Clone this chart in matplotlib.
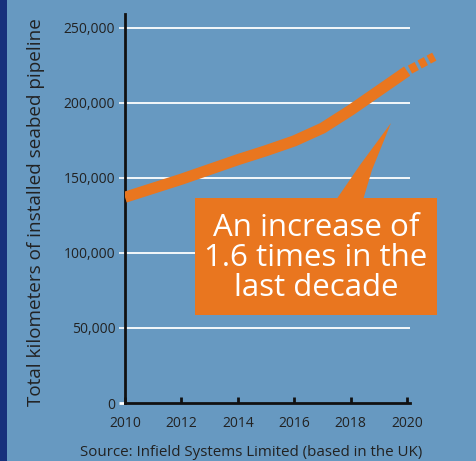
import matplotlib
matplotlib.use("Agg")
import matplotlib.pyplot as plt
from matplotlib.patches import Rectangle, Polygon

# ---- data ----
years = [2010, 2011, 2012, 2013, 2014, 2015, 2016, 2017, 2018, 2019, 2020]
pipeline_km = [137000, 143000, 149000, 155500, 162000, 168000, 174500, 183000, 195000, 208000, 221000]
proj_years = [2020, 2021]
proj_km = [221000, 231000]
xticks = [2010, 2012, 2014, 2016, 2018, 2020]
yticks = [0, 50000, 100000, 150000, 200000, 250000]
ytick_labels = ["0", "50,000", "100,000", "150,000", "200,000", "250,000"]
ylabel = "Total kilometers of installed seabed pipeline"
source = "Source: Infield Systems Limited (based in the UK)"
callout = "An increase of\n1.6 times in the\nlast decade"

# ---- style ----
W, H = 477, 461
BG = "#6799c1"
ORANGE = "#e9761f"
NAVY = "#17307c"
TXT = "#222222"
FONT = ["Open Sans", "DejaVu Sans"]
plt.rcParams["font.family"] = FONT

fig = plt.figure(figsize=(W / 100, H / 100), dpi=100, facecolor=BG)

def fx(x):
    return x / W

def fy(y):
    return 1 - y / H

ax = fig.add_axes([fx(125), fy(403), fx(410) - fx(125), fy(14) - fy(403)])
ax.set_facecolor("none")
ax.set_xlim(2010, 2020.1)
ax.set_ylim(0, 259000)

for s in ["top", "right"]:
    ax.spines[s].set_visible(False)
for s in ["left", "bottom"]:
    ax.spines[s].set_linewidth(2.0)
    ax.spines[s].set_color("#111111")

ax.set_yticks(yticks)
ax.set_yticklabels(ytick_labels)
ax.set_xticks(xticks)
ax.tick_params(axis="y", colors="white", labelcolor=TXT, length=4, width=1.2,
               labelsize=10, pad=3)
ax.tick_params(axis="x", colors="#111111", labelcolor=TXT, length=4, width=2,
               direction="in", labelsize=10, pad=9)
ax.yaxis.get_major_ticks()[0].tick1line.set_color("#111111")
ax.yaxis.get_major_ticks()[0].tick1line.set_markeredgewidth(2)

for v in yticks[1:]:
    ax.axhline(v, color="white", lw=1.3, zorder=1)

ax.plot(years, pipeline_km, color=ORANGE, lw=8, solid_capstyle="butt",
        solid_joinstyle="round", zorder=3)
proj, = ax.plot(proj_years, proj_km, color=ORANGE, lw=6.5, zorder=3,
                clip_on=False, solid_capstyle="butt", dash_capstyle="butt")
proj.set_dashes([0.0, 0.35, 0.85, 0.35, 0.8, 0.35, 0.7, 5])

ax.set_ylabel(ylabel, fontsize=13.6, color=TXT)
ax.yaxis.set_label_coords((fx(45) - fx(125)) / (fx(410) - fx(125)), 0.49)

# left navy strip
fig.patches.append(Rectangle((0, 0), fx(7), 1, transform=fig.transFigure,
                             facecolor=NAVY, edgecolor="none", zorder=1))

# callout wedge and box
wedge = Polygon([(fx(336), fy(200)), (fx(363), fy(200)), (fx(372), fy(170)),
                 (fx(391), fy(123)), (fx(360), fy(165))],
                closed=True, transform=fig.transFigure, facecolor=ORANGE,
                edgecolor="none", zorder=4)
fig.patches.append(wedge)
fig.patches.append(Rectangle((fx(195), fy(315)), fx(437) - fx(195), fy(198) - fy(315),
                             transform=fig.transFigure, facecolor=ORANGE,
                             edgecolor="none", zorder=4))
fig.text(fx(316), fy(258), callout, ha="center", va="center", color="white",
         fontsize=22.5, linespacing=1.0, zorder=5)

fig.text(fx(251), fy(452), source, ha="center", va="center", color=TXT, fontsize=10.9)

fig.savefig("out.png", dpi=100, facecolor=BG)
